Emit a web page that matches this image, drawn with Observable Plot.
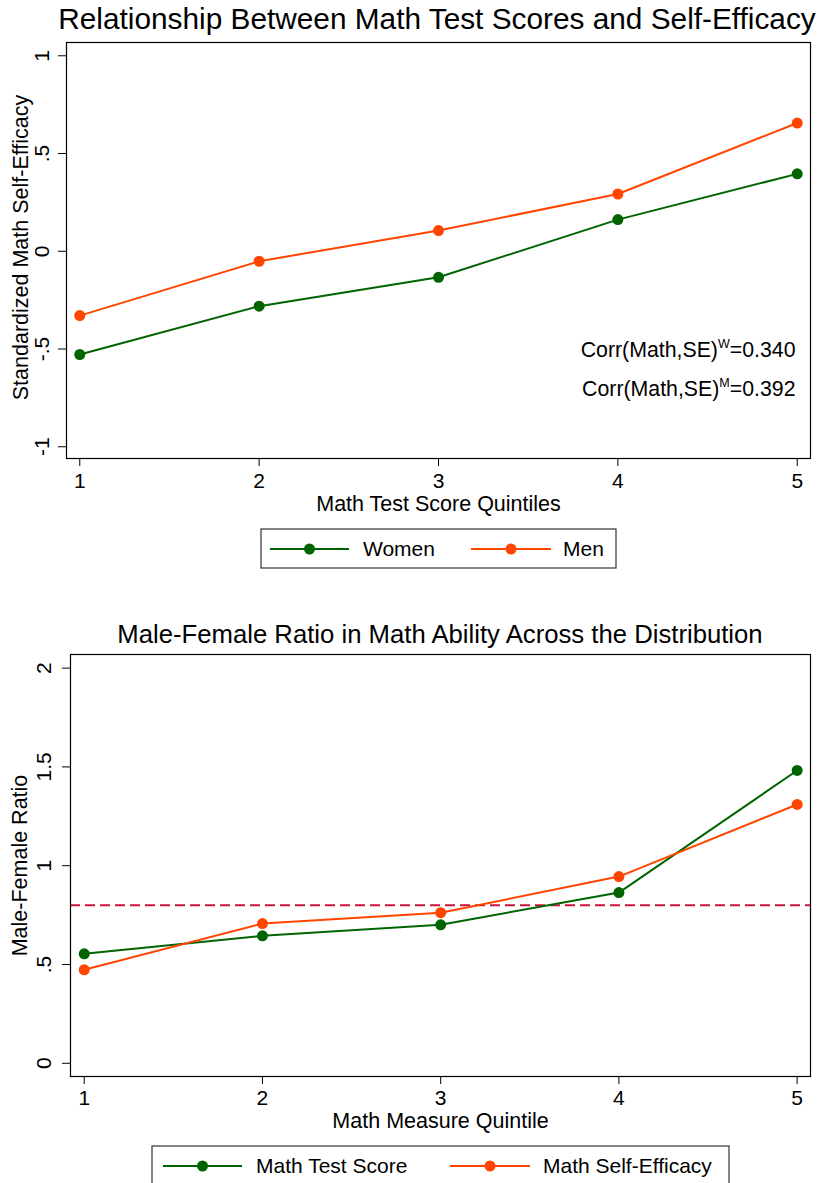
<!DOCTYPE html>
<html><head><meta charset="utf-8">
<script src="https://cdn.jsdelivr.net/npm/d3@7"></script>
<script src="https://cdn.jsdelivr.net/npm/@observablehq/plot@0.6"></script>
<style>
body{margin:0;background:#fff;font-family:"Liberation Sans",Arial,sans-serif;}
#page{position:relative;width:825px;height:1183px;overflow:hidden;background:#fff;}
.title{position:absolute;white-space:nowrap;color:#000;transform:translateX(-50%);}
</style></head><body><div id="page"></div>
<script>
// ---------- data ----------
const quintiles = [1, 2, 3, 4, 5];

const topTitle = "Relationship Between Math Test Scores and Self-Efficacy";
const topXLabel = "Math Test Score Quintiles";
const topYLabel = "Standardized Math Self-Efficacy";
const topSeries = ["Women", "Men"];
const women = [-0.528, -0.281, -0.133, 0.162, 0.396];
const men = [-0.329, -0.051, 0.106, 0.293, 0.656];
const topYTicks = [-1, -0.5, 0, 0.5, 1];
const corrGroups = ["W", "M"];
const corrValues = [0.340, 0.392];

const bottomTitle = "Male-Female Ratio in Math Ability Across the Distribution";
const bottomXLabel = "Math Measure Quintile";
const bottomYLabel = "Male-Female Ratio";
const bottomSeries = ["Math Test Score", "Math Self-Efficacy"];
const testScore = [0.554, 0.645, 0.701, 0.864, 1.482];
const selfEfficacy = [0.473, 0.707, 0.762, 0.945, 1.310];
const bottomYTicks = [0, 0.5, 1, 1.5, 2];
const refRatio = 0.8;

const seriesColors = ["#006400", "#ff4500"];
const refColor = "#c8143c";
const FONT = '"Liberation Sans", Arial, sans-serif';

// ---------- helpers ----------
const fmt = d => String(d).replace(/^(-?)0\./, "$1.");
const NS = "http://www.w3.org/2000/svg";
const page = document.getElementById("page");

function superscripts(svg) {
  svg.querySelectorAll("text").forEach(t => {
    const s = t.textContent;
    const m = s.match(/^(.*)\^(\w)(.*)$/);
    if (!m) return;
    t.textContent = "";
    t.append(m[1]);
    const sup = document.createElementNS(NS, "tspan");
    sup.setAttribute("font-size", "12.5");
    sup.setAttribute("dy", "-9");
    sup.textContent = m[2];
    const rest = document.createElementNS(NS, "tspan");
    rest.setAttribute("dy", "9");
    rest.textContent = m[3];
    t.append(sup, rest);
  });
}

function addTitle(text, center, top, size) {
  const d = document.createElement("div");
  d.className = "title";
  Object.assign(d.style, {left: center + "px", top: top + "px",
    fontSize: size + "px", lineHeight: size + "px"});
  d.textContent = text;
  page.appendChild(d);
}

function place(node, left, top) {
  node.style.position = "absolute";
  node.style.left = left + "px";
  node.style.top = top + "px";
  page.appendChild(node);
}

function legend(series, colors, box, items) {
  const svg = d3.create("svg").attr("width", box.w).attr("height", box.h)
    .style("overflow", "hidden");
  svg.append("rect").attr("x", 1).attr("y", 1).attr("width", box.rw).attr("height", box.rh)
    .attr("fill", "#fff").attr("stroke", "#333").attr("stroke-width", 1.2);
  series.forEach((s, i) => {
    const it = items[i];
    svg.append("line").attr("x1", it.x1).attr("x2", it.x2).attr("y1", box.cy).attr("y2", box.cy)
      .attr("stroke", colors[i]).attr("stroke-width", 2);
    svg.append("circle").attr("cx", (it.x1 + it.x2) / 2).attr("cy", box.cy).attr("r", 5.5)
      .attr("fill", colors[i]);
    svg.append("text").attr("x", it.tx).attr("y", box.cy).attr("dy", "0.35em")
      .attr("font-family", FONT).attr("font-size", 21).attr("fill", "#000").text(s);
  });
  return svg.node();
}

// ---------- top chart ----------
const topData = [
  ...quintiles.map((q, i) => ({q, v: women[i], s: topSeries[0]})),
  ...quintiles.map((q, i) => ({q, v: men[i], s: topSeries[1]}))
];

addTitle(topTitle, 437, 4, 29.8);

const topPlot = Plot.plot({
  width: 825, height: 482,
  marginTop: 4, marginBottom: 62, marginLeft: 66, marginRight: 15,
  style: {fontFamily: FONT, fontSize: "21px", color: "#000", background: "transparent", overflow: "visible"},
  x: {domain: [0.926, 5.074], ticks: quintiles, tickSize: 8, tickPadding: 6.5, tickFormat: d => String(d), label: null},
  y: {domain: [-1.060, 1.068], ticks: topYTicks, tickSize: 8, tickPadding: 9.5, tickRotate: -90, tickFormat: fmt, label: null},
  color: {domain: topSeries, range: seriesColors},
  marks: [
    Plot.frame({stroke: "#000", strokeWidth: 1.2}),
    Plot.line(topData, {x: "q", y: "v", z: "s", stroke: "s", strokeWidth: 2}),
    Plot.dot(topData, {x: "q", y: "v", fill: "s", r: 5.5}),
    Plot.text([topXLabel], {frameAnchor: "bottom", dy: 46, lineAnchor: "middle", fontSize: 21.5, text: d => d}),
    Plot.text([topYLabel], {frameAnchor: "left", dx: -45.5, dy: -3, rotate: -90, textAnchor: "middle", lineAnchor: "middle", fontSize: 21.5, text: d => d}),
    Plot.text([`Corr(Math,SE)^${corrGroups[0]}=${corrValues[0].toFixed(3)}`],
      {frameAnchor: "bottom-right", dx: -15, dy: -108, textAnchor: "end", lineAnchor: "middle", fontSize: 21.3, text: d => d}),
    Plot.text([`Corr(Math,SE)^${corrGroups[1]}=${corrValues[1].toFixed(3)}`],
      {frameAnchor: "bottom-right", dx: -15, dy: -69, textAnchor: "end", lineAnchor: "middle", fontSize: 21.3, text: d => d})
  ]
});
superscripts(topPlot);
place(topPlot, 0, 38);

place(legend(topSeries, seriesColors,
  {w: 357, h: 42, rw: 355, rh: 39, cy: 21},
  [{x1: 10, x2: 89, tx: 103}, {x1: 211, x2: 291, tx: 303}]), 260, 528);

// ---------- bottom chart ----------
const bottomData = [
  ...quintiles.map((q, i) => ({q, v: testScore[i], s: bottomSeries[0]})),
  ...quintiles.map((q, i) => ({q, v: selfEfficacy[i], s: bottomSeries[1]}))
];

addTitle(bottomTitle, 440, 621.5, 25.7);

const bottomPlot = Plot.plot({
  width: 825, height: 490,
  marginTop: 4, marginBottom: 64, marginLeft: 70, marginRight: 15,
  style: {fontFamily: FONT, fontSize: "21px", color: "#000", background: "transparent", overflow: "visible"},
  x: {domain: [0.923, 5.075], ticks: quintiles, tickSize: 8, tickPadding: 5.5, tickFormat: d => String(d), label: null},
  y: {domain: [-0.067, 2.069], ticks: bottomYTicks, tickSize: 8, tickPadding: 11.2, tickRotate: -90, tickFormat: fmt, label: null},
  color: {domain: bottomSeries, range: seriesColors},
  marks: [
    Plot.ruleY([refRatio], {stroke: refColor, strokeWidth: 2, strokeDasharray: "10,5"}),
    Plot.frame({stroke: "#000", strokeWidth: 1.2}),
    Plot.line(bottomData, {x: "q", y: "v", z: "s", stroke: "s", strokeWidth: 2}),
    Plot.dot(bottomData, {x: "q", y: "v", fill: "s", r: 5.5}),
    Plot.text([bottomXLabel], {frameAnchor: "bottom", dy: 45, lineAnchor: "middle", fontSize: 21.5, text: d => d}),
    Plot.text([bottomYLabel], {frameAnchor: "left", dx: -50, rotate: -90, textAnchor: "middle", lineAnchor: "middle", fontSize: 21.5, text: d => d})
  ]
});
place(bottomPlot, 0, 650);

place(legend(bottomSeries, seriesColors,
  {w: 580, h: 40, rw: 577, rh: 45, cy: 21},
  [{x1: 12, x2: 91, tx: 105}, {x1: 299, x2: 379, tx: 392}]), 151, 1145);
</script></body></html>
